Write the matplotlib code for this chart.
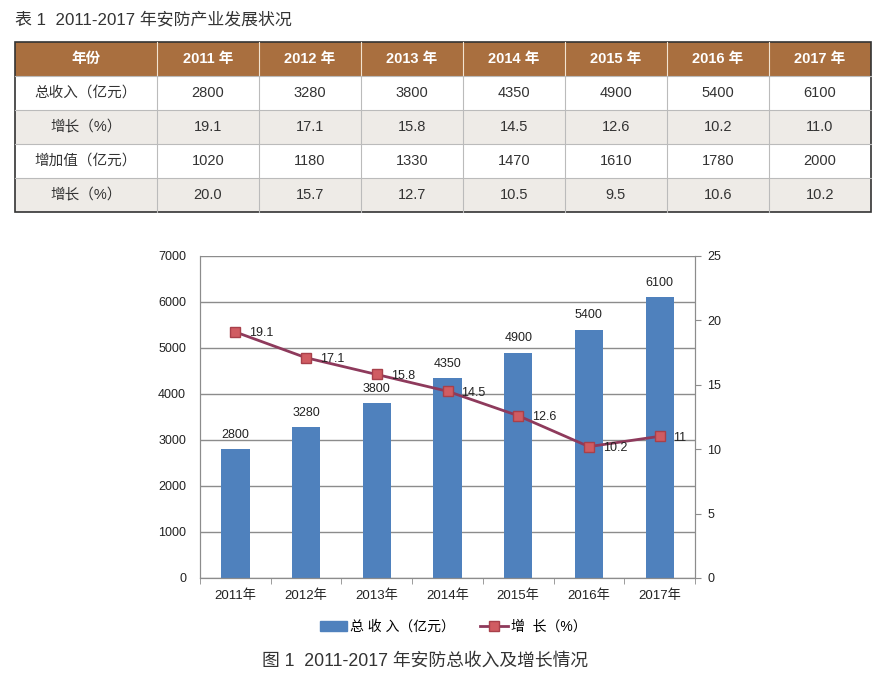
import matplotlib.pyplot as plt
import numpy as np
from matplotlib.patches import Rectangle
from matplotlib.lines import Line2D
from matplotlib.ticker import FixedLocator

plt.rcParams['font.family'] = ['Liberation Sans', 'Noto Sans CJK SC', 'DejaVu Sans']

# Data
years = ['2011', '2012', '2013', '2014', '2015', '2016', '2017']
row_labels = ['总收入（亿元）', '增长（%）', '增加值（亿元）', '增长（%）']
revenue = [2800, 3280, 3800, 4350, 4900, 5400, 6100]
revenue_growth = [19.1, 17.1, 15.8, 14.5, 12.6, 10.2, 11.0]
added_value = [1020, 1180, 1330, 1470, 1610, 1780, 2000]
added_growth = [20.0, 15.7, 12.7, 10.5, 9.5, 10.6, 10.2]
growth_labels = ['19.1', '17.1', '15.8', '14.5', '12.6', '10.2', '11']

table_rows = [
    [str(v) for v in revenue],
    ['%.1f' % v for v in revenue_growth],
    [str(v) for v in added_value],
    ['%.1f' % v for v in added_growth],
]

fig = plt.figure(figsize=(8.84, 6.91), dpi=100)

# background axes in pixel coords for the table and captions
bg = fig.add_axes([0, 0, 1, 1])
bg.set_xlim(0, 884)
bg.set_ylim(691, 0)
bg.axis('off')

bg.text(15, 19, '表 1  2011-2017 年安防产业发展状况', fontsize=12.2, color='#333333',
        ha='left', va='center')

brown = '#A96F3F'
stripe = '#EEEBE7'
left, top, first_w, col_w, row_h = 15, 42, 142, 102, 34
col_edges = [left, left + first_w] + [left + first_w + col_w * (i + 1) for i in range(len(years))]
right = col_edges[-1]

# header
bg.add_patch(Rectangle((left, top), right - left, row_h, color=brown, lw=0))
header = ['年份'] + [y + ' 年' for y in years]
for i, h in enumerate(header):
    cx = (col_edges[i] + col_edges[i + 1]) / 2
    bg.text(cx, top + row_h / 2, h, color='white', fontsize=10.5, fontweight='bold',
            ha='center', va='center')

# body
for r, (lab, vals) in enumerate(zip(row_labels, table_rows)):
    y0 = top + row_h * (r + 1)
    if r % 2 == 1:
        bg.add_patch(Rectangle((left, y0), right - left, row_h, color=stripe, lw=0))
    bg.plot([left, right], [y0, y0], color='#BBBBBB', lw=0.8)
    cells = [lab] + vals
    for i, c in enumerate(cells):
        cx = (col_edges[i] + col_edges[i + 1]) / 2
        bg.text(cx, y0 + row_h / 2, c, color='#333333', fontsize=10.5,
                ha='center', va='center')

bottom = top + row_h * 5
for xe in col_edges[1:-1]:
    bg.plot([xe, xe], [top, top + row_h], color='#F3E3D0', lw=0.8)
    bg.plot([xe, xe], [top + row_h, bottom], color='#BBBBBB', lw=0.8)
bg.add_patch(Rectangle((left, top), right - left, bottom - top, fill=False,
                       ec='#333333', lw=1.2))

bg.text(425, 661, '图 1  2011-2017 年安防总收入及增长情况', fontsize=12.8, color='#333333',
        ha='center', va='center')

# chart
ax = fig.add_axes([200 / 884, 1 - 578 / 691, 495 / 884, 322 / 691])
x = np.arange(len(years))
bar_color = '#4F81BD'
line_color = '#8E3A5C'
grid_color = '#8C8C8C'

ax.bar(x, revenue, width=0.4, color=bar_color, zorder=2)
for xi, v in zip(x, revenue):
    ax.annotate(str(v), (xi, v), xytext=(0, 6), textcoords='offset points',
                ha='center', va='bottom', fontsize=9, color='#222222')

ax.set_xlim(-0.5, len(years) - 0.5)
ax.set_ylim(0, 7000)
ax.set_yticks(range(0, 7001, 1000))
ax.yaxis.grid(True, color=grid_color, lw=1)
ax.set_axisbelow(True)
ax.set_xticks(x)
ax.set_xticklabels([y + '年' for y in years], fontsize=9.5, color='#222222')
ax.xaxis.set_minor_locator(FixedLocator(np.arange(-0.5, len(years), 1.0)))
ax.tick_params(axis='x', which='major', length=0, pad=8)
ax.tick_params(axis='x', which='minor', length=4, color=grid_color, direction='out')
ax.tick_params(axis='y', length=0, pad=10, labelsize=9, labelcolor='#222222')
for s in ['left', 'bottom', 'right']:
    ax.spines[s].set_color(grid_color)
ax.spines['top'].set_visible(False)

ax2 = ax.twinx()
ax2.plot(x, revenue_growth, color=line_color, lw=2, marker='s', markersize=7.5,
         markerfacecolor='#D05C62', markeredgecolor='#A8404A', markeredgewidth=1, zorder=3)
for xi, v, t in zip(x, revenue_growth, growth_labels):
    ax2.annotate(t, (xi, v), xytext=(10, -1), textcoords='offset points',
                 ha='left', va='center', fontsize=9, color='#222222')
ax2.set_ylim(0, 25)
ax2.set_yticks(range(0, 26, 5))
ax2.tick_params(axis='y', length=4, color=grid_color, pad=5, labelsize=9, labelcolor='#222222')
for s in ['left', 'bottom', 'right']:
    ax2.spines[s].set_color(grid_color)
ax2.spines['top'].set_visible(False)

handles = [
    Rectangle((0, 0), 1, 1, color=bar_color),
    Line2D([0], [0], color=line_color, lw=2, marker='s', markersize=7,
           markerfacecolor='#D05C62', markeredgecolor='#A8404A'),
]
fig.legend(handles, ['总 收 入（亿元）', '增  长（%）'], loc='center',
           bbox_to_anchor=(453 / 884, 1 - 627 / 691), ncol=2, frameon=False,
           fontsize=10, handlelength=2.0, handletextpad=0.2, columnspacing=1.8)

fig.savefig('out.png', dpi=100)
